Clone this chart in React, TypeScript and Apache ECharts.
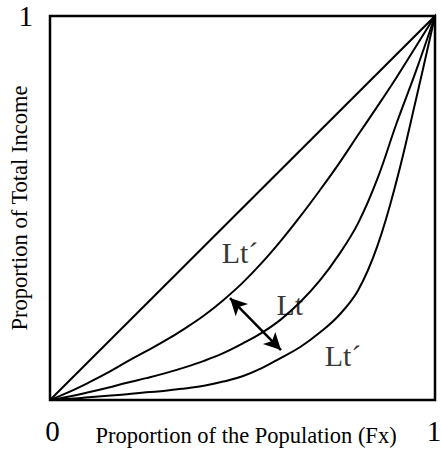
import React, { useEffect, useRef } from "react";
import * as echarts from "echarts";

// Proportion of the population (x), shared by the three Lorenz curves
const xGrid = [0, 0.05, 0.1, 0.15, 0.2, 0.25, 0.3, 0.35, 0.4, 0.45, 0.5, 0.55, 0.6, 0.65, 0.7, 0.75, 0.8, 0.85, 0.9, 0.95, 1.0];
// Upper Lorenz curve (Lt´ above)
const upperCurve = [0, 0.021, 0.045, 0.071, 0.1, 0.127, 0.155, 0.186, 0.22, 0.26, 0.305, 0.357, 0.415, 0.478, 0.545, 0.615, 0.69, 0.764, 0.84, 0.92, 1.0];
// Middle Lorenz curve (Lt)
const ltCurve = [0, 0.009, 0.02, 0.032, 0.045, 0.057, 0.07, 0.085, 0.102, 0.122, 0.147, 0.175, 0.21, 0.255, 0.31, 0.378, 0.46, 0.575, 0.72, 0.855, 1.0];
// Lower Lorenz curve (Lt´ below)
const lowerCurve = [0, 0.003, 0.007, 0.011, 0.015, 0.02, 0.024, 0.03, 0.037, 0.048, 0.062, 0.083, 0.11, 0.138, 0.175, 0.22, 0.285, 0.4, 0.57, 0.78, 1.0];
// Line of equality
const equalityX = [0, 1.02];
const equalityY = [0, 1.02];
// Curve labels
const labelNames = ["Lt´", "Lt", "Lt´"];
const labelX = [0.4935, 0.623, 0.761];
const labelY = [0.385, 0.25, 0.1146];
// Double-headed arrow
const arrowStart = [0.4675, 0.2656];
const arrowEnd = [0.6, 0.13];
// Ticks
const xTicks = ["0", "1"];
const yTicks = ["", "1"];

const FONT = "'Liberation Serif', 'Times New Roman', serif";

const pairs = (xs: number[], ys: number[]) => xs.map((x, i) => [x, ys[i]]);

export default function App() {
  const ref = useRef<HTMLDivElement>(null);
  useEffect(() => {
    if (!ref.current) return;
    const chart = echarts.init(ref.current, null, { renderer: "svg" });
    const curveLine = { color: "#000", width: 2 };
    chart.setOption({
      animation: false,
      backgroundColor: "#fff",
      grid: {
        left: 50,
        top: 16,
        right: 6,
        bottom: 50,
        containLabel: false,
        outerBoundsMode: "none",
        show: true,
        borderColor: "#000",
        borderWidth: 2.5,
        backgroundColor: "transparent",
      },
      xAxis: {
        type: "value",
        min: 0,
        max: 1,
        interval: 1,
        name: "Proportion of the Population (Fx)",
        nameLocation: "middle",
        nameGap: 24,
        nameMoveOverlap: false,
        nameTextStyle: { fontFamily: FONT, fontSize: 22.5, color: "#000", padding: [0, 0, 0, 7] },
        axisLine: { show: false },
        axisTick: { show: false },
        splitLine: { show: false },
        axisLabel: {
          margin: 16,
          fontFamily: FONT,
          fontSize: 29,
          color: "#000",
          formatter: (v: number) => (Math.round(v) === 0 ? `{z|${xTicks[0]}}` : `{o|${xTicks[1]}}`),
          rich: {
            z: { fontFamily: FONT, fontSize: 29, color: "#000", padding: [0, 0, 0, 5] },
            o: { fontFamily: FONT, fontSize: 29, color: "#000", padding: [0, 2, 0, 0] },
          },
        },
      },
      yAxis: {
        type: "value",
        min: 0,
        max: 1,
        interval: 1,
        name: "Proportion of Total Income",
        nameLocation: "middle",
        nameRotate: 90,
        nameGap: 19,
        nameMoveOverlap: false,
        nameTextStyle: { fontFamily: FONT, fontSize: 22.5, color: "#000" },
        axisLine: { show: false },
        axisTick: { show: false },
        splitLine: { show: false },
        axisLabel: {
          margin: 17,
          fontFamily: FONT,
          fontSize: 29,
          color: "#000",
          padding: [10, 0, 0, 0],
          formatter: (v: number) => yTicks[Math.round(v)],
        },
      },
      series: [
        {
          type: "line",
          data: pairs(equalityX, equalityY),
          showSymbol: false,
          clip: false,
          lineStyle: curveLine,
          silent: true,
        },
        {
          type: "line",
          data: pairs(xGrid, upperCurve),
          showSymbol: false,
          smooth: 0.4,
          lineStyle: curveLine,
          silent: true,
        },
        {
          type: "line",
          data: pairs(xGrid, ltCurve),
          showSymbol: false,
          smooth: 0.4,
          lineStyle: curveLine,
          silent: true,
          markLine: {
            silent: true,
            symbol: ["arrow", "arrow"],
            symbolSize: [13, 17],
            lineStyle: { color: "#000", width: 2.5, type: "solid" },
            itemStyle: { color: "#000" },
            label: { show: false },
            data: [[{ coord: arrowStart }, { coord: arrowEnd }]],
          },
        },
        {
          type: "line",
          data: pairs(xGrid, lowerCurve),
          showSymbol: false,
          smooth: 0.4,
          lineStyle: curveLine,
          silent: true,
        },
        {
          type: "scatter",
          symbolSize: 1,
          itemStyle: { color: "rgba(0,0,0,0)" },
          silent: true,
          data: labelNames.map((n, i) => ({ name: n, value: [labelX[i], labelY[i]] })),
          label: {
            show: true,
            position: "inside",
            formatter: (p: any) => p.name,
            fontFamily: FONT,
            fontSize: 30,
            color: "#000",
          },
        },
      ],
    });
    return () => chart.dispose();
  }, []);
  return (
    <div
      ref={ref}
      style={{ position: "fixed", left: 0, top: 0, width: 441, height: 450 }}
    />
  );
}
